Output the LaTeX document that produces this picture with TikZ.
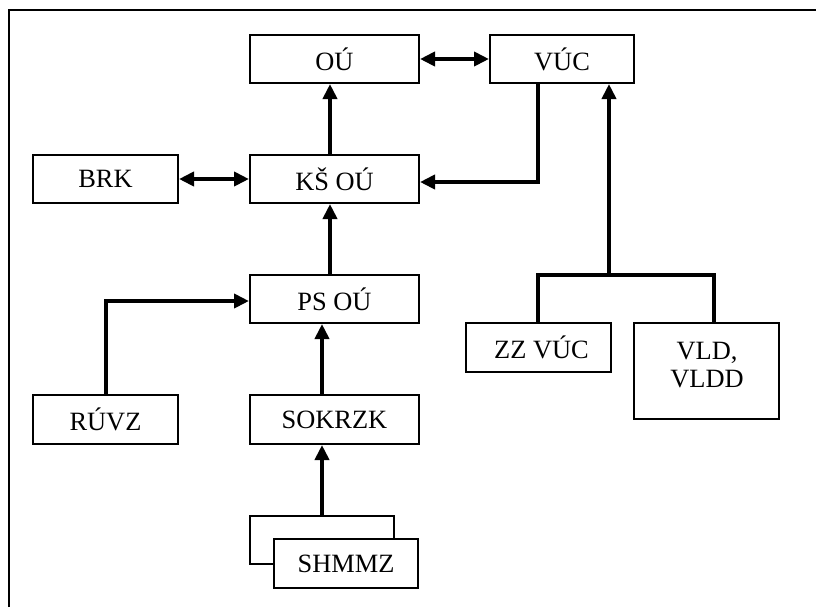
\documentclass[tikz,border=0pt]{standalone}
\usepackage{fontspec}
\setmainfont{Liberation Serif}
\usetikzlibrary{arrows.meta,calc}
\begin{document}
\begin{tikzpicture}[x=0.5pt,y=-0.5pt,
  box/.style={draw,line width=1pt,inner sep=0pt,font=\fontsize{13.2}{15.5}\selectfont},
  conn/.style={line width=2pt,-{Triangle[length=7.5pt,width=7pt]}},
  biconn/.style={line width=2pt,{Triangle[length=7.5pt,width=7pt]}-{Triangle[length=7.5pt,width=7pt]}},
  plain/.style={line width=2pt}]
\useasboundingbox (0,0) rectangle (816,607);
\draw[line width=1.2pt] (9,607) -- (9,10) -- (816,10);
% boxes
\node[box,minimum width=84.5pt,minimum height=24pt] (OU) at (334.5,59) {OÚ};
\node[box,minimum width=72pt,minimum height=24pt] (VUC) at (562,59) {VÚC};
\node[box,minimum width=72.5pt,minimum height=24pt] (BRK) at (105.5,179) {BRK};
\node[box,minimum width=84.5pt,minimum height=24pt] (KS) at (334.5,179) {KŠ OÚ};
\node[box,minimum width=84.5pt,minimum height=24pt] (PS) at (334.5,299) {PS OÚ};
\node[box,minimum width=72.5pt,minimum height=24.5pt] (RUVZ) at (105.5,419.5) {RÚVZ};
\node[box,minimum width=84.5pt,minimum height=24.5pt] (SOK) at (334.5,419.5) {SOKRZK};
\node[box,minimum width=72.5pt,minimum height=24.5pt] (ZZ) at (538.5,347.5) {\hspace*{3pt}ZZ VÚC};
\node[box,minimum width=72.5pt,minimum height=48pt] (VLD) at (706.5,371) {};
\node[font=\fontsize{13.2}{14}\selectfont,align=center,inner sep=0pt] (VLDt) at (707,365) {VLD,\\VLDD};
\node[box,minimum width=72pt,minimum height=24pt] (SHb) at (322,540) {};
\node[box,fill=white,minimum width=72pt,minimum height=24.5pt] (SH) at (346,563.5) {SHMMZ};
% coordinates
\coordinate (bus) at (609,275);
\coordinate (busL) at (538,275);
\coordinate (busR) at (714,275);
% connectors
\draw[biconn] (OU.east) -- (VUC.west);
\draw[biconn] (BRK.east) -- (KS.west);
\draw[conn] ($(KS.north)+(-4.5,0)$) -- ($(OU.south)+(-4.5,0)$);
\draw[conn] ($(PS.north)+(-4.5,0)$) -- ($(KS.south)+(-4.5,0)$);
\draw[conn] ($(SOK.north)+(-12.5,0)$) -- ($(PS.south)+(-12.5,0)$);
\draw[conn] (SHb.north) -- ($(SOK.south)+(-12.5,0)$);
\draw[conn] (RUVZ.north) |- ($(PS.west)+(0,2)$);
\draw[conn] ($(VUC.south)+(-24,0)$) |- ($(KS.east)+(0,3)$);
\draw[plain] (ZZ.north -| busL) |- (busR) -- (VLD.north -| busR);
\draw[conn] (bus) -- (VUC.south -| bus);
\end{tikzpicture}
\end{document}
